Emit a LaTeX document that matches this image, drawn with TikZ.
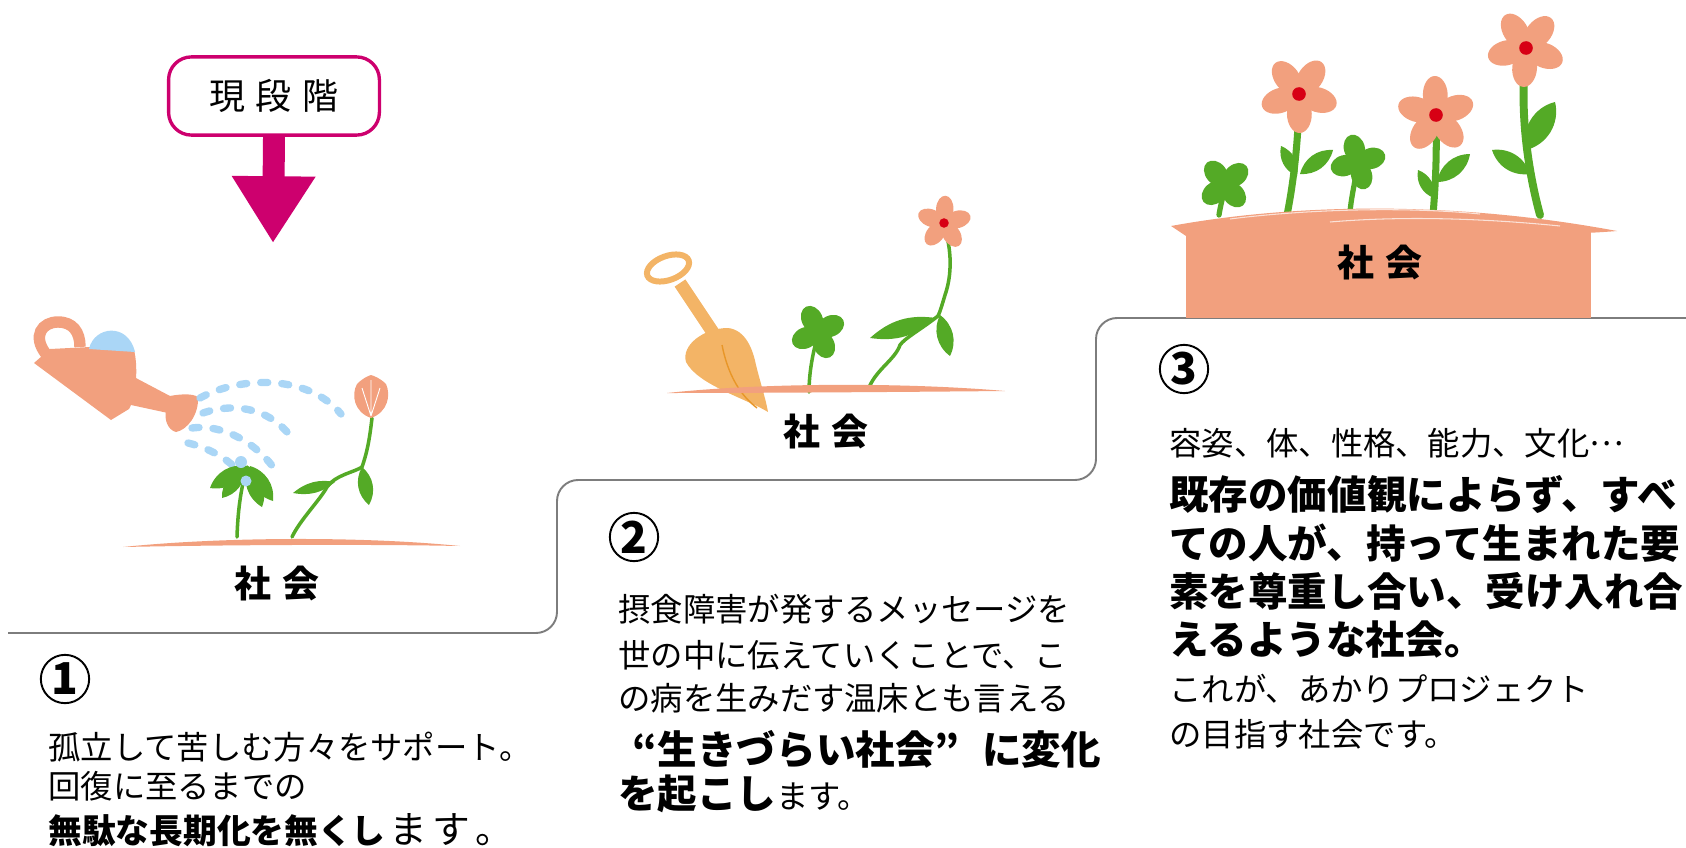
\documentclass[tikz,border=0pt]{standalone}
\usepackage{fontspec}
\setmainfont{Noto Sans CJK JP}
\usetikzlibrary{arrows.meta}

\definecolor{stagepink}{RGB}{205,0,110}
\definecolor{soil}{RGB}{242,160,126}
\definecolor{leafgreen}{RGB}{84,170,38}
\definecolor{drop}{RGB}{170,214,246}
\definecolor{spade}{RGB}{243,180,102}
\definecolor{spadevein}{RGB}{232,150,40}
\definecolor{bloomred}{RGB}{215,0,20}
\definecolor{stepgray}{RGB}{125,125,125}

% flower head: x, y, petal size, turn
\newcommand{\bloom}[4]{%
  \foreach \a in {0,72,...,288}
    \fill[soil,rotate around={\a+#4:(#1,#2)}] ({#1+#3},#2) ellipse ({0.95*#3} and {0.62*#3});
  \fill[bloomred] (#1,#2) circle ({0.34*#3});}
% four leaf clover: x, y, leaf size, turn
\newcommand{\clover}[4]{%
  \foreach \a in {0,90,180,270}
    \fill[leafgreen,rotate around={\a+#4:(#1,#2)}] ({#1+#3},#2) ellipse ({#3} and {0.75*#3});}

\begin{document}
\begin{tikzpicture}[x=0.02cm,y=-0.02cm,
  stem/.style={leafgreen,line width=2pt,line cap=round},
  rain/.style={drop,line width=4.2pt,line cap=round,dash pattern=on 4pt off 8pt},
  body/.style={inner sep=0pt,anchor=west,font=\fontsize{18.4}{20}\selectfont},
  strong/.style={inner sep=0pt,anchor=west,font=\fontsize{22.5}{24}\selectfont\bfseries},
  badge/.style={draw,circle,line width=1.1pt,minimum size=27.5pt,inner sep=0pt,font=\fontsize{25}{26}\selectfont\bfseries},
  soc/.style={inner sep=0pt,font=\fontsize{21}{22}\selectfont\bfseries}]

\useasboundingbox (0,0) rectangle (1686,848);

% staircase
\draw[stepgray,line width=1.1pt,rounded corners=12pt] (8,633) -- (557,633) -- (557,480) -- (1096,480) -- (1096,318) -- (1686,318);

% where we are now
\node[draw=stagepink,line width=1.9pt,rounded corners=13pt,minimum width=120pt,minimum height=44.5pt,
  font=\fontsize{20.5}{22}\selectfont] (now) at (274,96) {現\hspace{6pt}段\hspace{6pt}階};
\coordinate (tip) at (273,243);
\draw[stagepink,line width=12.5pt,-{Triangle[length=38pt,width=45pt]}] (now.south) -- (tip);

%% step 1 : watering can
\draw[soil,line width=6.5pt] (46,354) .. controls (32,336) and (42,322) .. (58,322) .. controls (73,322) and (80,332) .. (80,347);
\fill[soil] (34,363) -- (50,349) -- (90,347) -- (134,350) .. controls (138,365) and (137,395) .. (129,409) -- (111,420) -- cycle;
\fill[drop] (89,349) .. controls (94,326) and (128,322) .. (135,352) -- cycle;
\fill[soil] (134,377) -- (170,396) -- (168,413) -- (131,405) -- cycle;
\fill[soil] (165,397) .. controls (178,394) and (192,393) .. (198,397) .. controls (199,415) and (187,430) .. (176,432) .. controls (168,430) and (164,420) .. (166,410) -- cycle;
\draw[rain] (200,398) .. controls (240,376) and (308,374) .. (341,414);
\draw[rain] (203,413) .. controls (235,402) and (272,408) .. (294,441);
\draw[rain] (192,428) .. controls (220,424) and (256,440) .. (278,474);
\draw[rain] (188,443) .. controls (205,447) and (232,458) .. (247,482);
% seedling under the water
\draw[stem] (237,537) .. controls (238,505) and (242,485) .. (247,467);
\fill[leafgreen] (247,466) to[bend right=40] (210,488) to[bend right=40] (247,466);
\fill[leafgreen] (245,468) to[bend right=40] (222,498) to[bend right=40] (245,468);
\fill[leafgreen] (248,466) to[bend left=40] (262,507) to[bend left=40] (248,466);
\fill[leafgreen] (250,466) to[bend left=40] (273,501) to[bend left=40] (250,466);
\fill[drop] (241,462) circle (6);
\fill[drop] (246,481) circle (5.5);
% bud
\draw[stem] (292,537) .. controls (300,520) and (320,500) .. (327,487) .. controls (335,475) and (355,472) .. (362,467) .. controls (368,450) and (370,435) .. (372,418);
\fill[leafgreen] (335,482) to[bend right=25] (293,493) to[bend right=25] (335,482);
\fill[leafgreen] (362,467) to[bend left=40] (369,505) to[bend left=40] (362,467);
\fill[soil] (371,418) .. controls (354,412) and (351,395) .. (357,384) .. controls (363,378) and (368,376) .. (371,375) .. controls (374,376) and (380,378) .. (386,384) .. controls (391,395) and (388,412) .. (371,418);
\draw[white,line width=0.5pt] (371,416) -- (371,380) (371,416) -- (362,388) (371,416) -- (380,388);
% ground
\fill[soil] (123,547) .. controls (220,537) and (360,536) .. (460,546) .. controls (360,544) and (220,545) .. cycle;
\node[soc] (ground1) at (277,584) {社\hspace{6pt}会};

%% step 2 : shovel
\draw[spade,line width=3.4pt,rotate around={20:(668,268)}] (668,268) ellipse (22 and 12);
\draw[spade,line width=7.4pt] (680,283) -- (718,340);
\fill[spade] (768,412) .. controls (745,398) and (698,385) .. (686,362) .. controls (681,345) and (704,328) .. (728,328) .. controls (746,330) and (753,350) .. (756,365) .. controls (761,385) and (766,400) .. (768,412) -- cycle;
\draw[spadevein,line width=0.8pt] (722,345) .. controls (728,375) and (740,395) .. (757,408);
% clover
\draw[stem] (818,335) .. controls (812,355) and (809,375) .. (809,392);
\clover{818}{332}{14}{25}
% flower
\draw[stem] (944,226) .. controls (952,250) and (952,275) .. (945,295) .. controls (942,305) and (940,312) .. (938,316);
\draw[stem] (938,316) .. controls (920,330) and (905,338) .. (900,345) .. controls (895,360) and (875,370) .. (868,390);
\fill[leafgreen] (936,318) to[bend right=25] (870,338) to[bend right=25] (936,318);
\fill[leafgreen] (940,315) to[bend left=40] (950,356) to[bend left=40] (940,315);
\bloom{944}{223}{14}{15}
% ground
\fill[soil] (667,393) .. controls (760,383) and (900,382) .. (1005,391) .. controls (900,392) and (760,393) .. cycle;
\node[soc] (ground2) at (826,432) {社\hspace{6pt}会};

%% step 3 : garden
\draw[stem,line width=4pt] (1299,100) .. controls (1298,150) and (1292,190) .. (1287,215);
\fill[leafgreen] (1297,176) to[bend left=40] (1281,146) to[bend left=40] (1297,176);
\fill[leafgreen] (1300,174) to[bend right=40] (1333,150) to[bend right=40] (1300,174);
\draw[stem,line width=4pt] (1436,120) .. controls (1437,160) and (1435,190) .. (1433,215);
\fill[leafgreen] (1434,198) to[bend left=40] (1418,170) to[bend left=40] (1434,198);
\fill[leafgreen] (1437,182) to[bend right=40] (1470,154) to[bend right=40] (1437,182);
\draw[stem,line width=4.5pt] (1526,55) .. controls (1520,100) and (1525,160) .. (1540,215);
\fill[leafgreen] (1526,150) to[bend right=45] (1555,102) to[bend right=45] (1526,150);
\fill[leafgreen] (1530,174) to[bend left=40] (1492,150) to[bend left=40] (1530,174);
\draw[stem,line width=3pt] (1225,188) .. controls (1222,200) and (1220,208) .. (1219,215);
\draw[stem,line width=3pt] (1358,166) .. controls (1354,185) and (1351,200) .. (1350,212);
\clover{1225}{184}{14}{40}
\clover{1358}{162}{14}{15}
\bloom{1299}{94}{20}{55}
\bloom{1436}{115}{20}{20}
\bloom{1526}{48}{20}{50}
\fill[soil] (1171,226) .. controls (1280,206) and (1440,198) .. (1617,231) .. controls (1560,236) and (1400,238) .. (1186,236) -- cycle;
\fill[soil] (1186,230) rectangle (1591,318);
\draw[white,line width=0.6pt,opacity=0.7] (1230,219) .. controls (1300,210) and (1400,206) .. (1480,214)
  (1330,222) .. controls (1400,216) and (1480,218) .. (1560,226);
\node[soc] (ground3) at (1380,263) {社\hspace{6pt}会};

%% step texts
\node[badge] (num1) at (65,679) {1};
\node[body] (t1a) at (48,747) {孤立して苦しむ方々をサポート。};
\node[body] (t1b) at (48,786) {回復に至るまでの};
\node[body] (t1c) at (48,830) {{\fontsize{19.2}{22}\selectfont\bfseries 無駄な長期化を無くし}{\fontsize{21.5}{22}\selectfont\hspace{2pt}ま\hspace{3pt}す\hspace{3pt}。}};

\node[badge] (num2) at (634,537) {2};
\node[body] (t2a) at (618,609) {摂食障害が発するメッセージを};
\node[body] (t2b) at (618,655) {世の中に伝えていくことで、こ};
\node[body] (t2c) at (618,698) {の病を生みだす温床とも言える};
\node[strong] (t2d) at (618,749) {\makebox[1em][r]{“}生きづらい社会\makebox[1.2em][l]{”}に変化};
\node[strong] (t2e) at (618,794) {を起こし{\mdseries\fontsize{18.4}{20}\selectfont ます。}};

\node[badge] (num3) at (1184,369) {3};
\node[body] (t3a) at (1169,443) {容姿、体、性格、能力、文化\raisebox{0.3em}{…}};
\node[strong] (t3b) at (1169,494) {既存の価値観によらず、すべ};
\node[strong] (t3c) at (1169,543) {ての人が、持って生まれた要};
\node[strong] (t3d) at (1169,591) {素を尊重し合い、受け入れ合};
\node[strong] (t3e) at (1169,640) {えるような社会。};
\node[body] (t3f) at (1169,689) {これが、あかりプロジェクト};
\node[body] (t3g) at (1169,734) {の目指す社会です。};
\end{tikzpicture}
\end{document}
